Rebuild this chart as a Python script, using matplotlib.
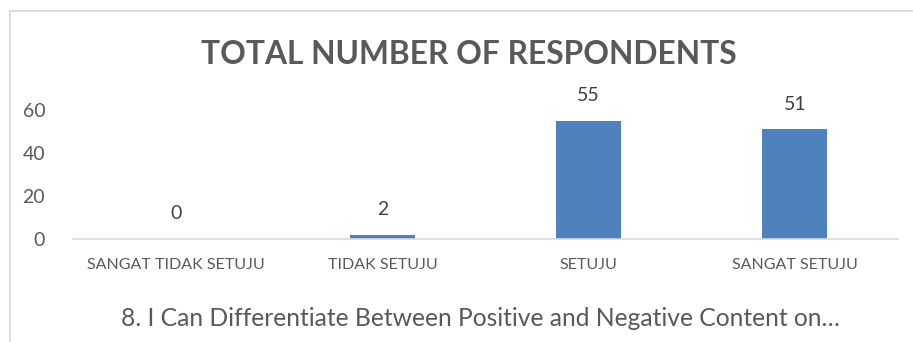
import numpy as np
import matplotlib.pyplot as plt
from matplotlib.lines import Line2D

# chart data
categories = ["SANGAT TIDAK SETUJU", "TIDAK SETUJU", "SETUJU", "SANGAT SETUJU"]
responses = [0, 2, 55, 51]
y_ticks = [0, 20, 40, 60]

title = "TOTAL NUMBER OF RESPONDENTS"
x_title = "8. I Can Differentiate Between Positive and Negative Content on\u2026"

bar_color = "#4F81BD"
text_color = "#595959"

plt.rcParams["font.family"] = ["Lato", "DejaVu Sans"]

W, H = 913, 342
fig = plt.figure(figsize=(W / 100, H / 100), dpi=100)
ax = fig.add_axes([73 / W, 103 / H, 825 / W, 129 / H])

x = np.arange(len(categories))
bars = ax.bar(x, responses, width=0.315, color=bar_color)
ax.set_xlim(-0.5, len(categories) - 0.5)
ax.set_ylim(0, 60)
ax.set_yticks(y_ticks)
ax.set_xticks(x)
ax.set_xticklabels(categories, fontsize=11.5, color=text_color)
ax.tick_params(axis="x", length=0, pad=14)
ax.tick_params(axis="y", length=0, pad=20, labelsize=14, labelcolor=text_color)

for side in ["top", "right", "left"]:
    ax.spines[side].set_visible(False)
ax.spines["bottom"].set_color("#D9D9D9")
ax.spines["bottom"].set_linewidth(1.2)

# value labels above each bar
for rect, val in zip(bars, responses):
    ax.annotate(str(val), (rect.get_x() + rect.get_width() / 2, val),
                xytext=(0, 12), textcoords="offset points",
                ha="center", va="bottom", fontsize=14, color="#404040",
                clip_on=False)

fig.text(469 / W, 1 - 55 / H, title, ha="center", va="center",
         fontsize=22.9, fontweight="bold", color=text_color)
fig.text(480 / W, 1 - 319 / H, x_title, ha="center", va="center",
         fontsize=17.7, color=text_color)

# chart frame (left and top edges)
frame = "#D9D9D9"
fig.add_artist(Line2D([9.5 / W, 9.5 / W], [0, 1 - 11 / H], color=frame, lw=1.2))
fig.add_artist(Line2D([9.5 / W, 1], [1 - 11 / H, 1 - 11 / H], color=frame, lw=1.2))

fig.savefig("out.png", dpi=100)
